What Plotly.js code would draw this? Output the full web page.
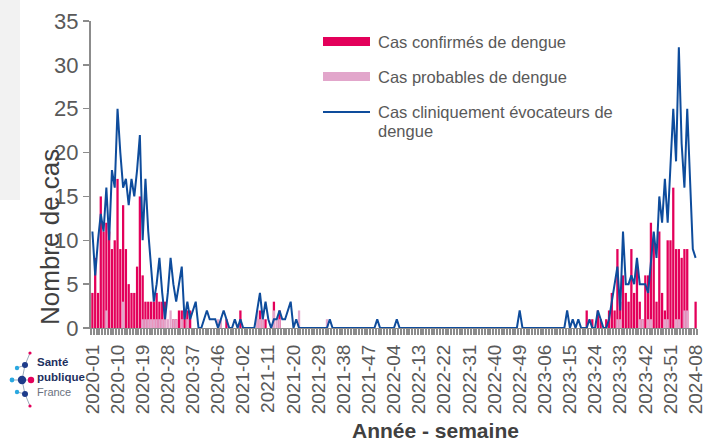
<!DOCTYPE html>
<html><head><meta charset="utf-8">
<script src="https://cdn.plot.ly/plotly-3.0.1.min.js"></script>
<style>html,body{margin:0;padding:0;background:#fff;} #chart{width:705px;height:442px;}</style>
</head><body><div id="chart"></div>
<script>
// ---- Data ----
const years = [2020, 2021, 2022, 2023, 2024];
const weeksPerYear = [53, 52, 52, 52, 8];
const tickLabels = ["2020-01","2020-10","2020-19","2020-28","2020-37","2020-46","2021-02","2021-11","2021-20","2021-29","2021-38","2021-47","2022-04","2022-13","2022-22","2022-31","2022-40","2022-49","2023-06","2023-15","2023-24","2023-33","2023-42","2023-51","2024-08"];

// Cas confirmés de dengue
const confirmes2020 = [4,8,4,15,11,12,11,9,10,17, 9,14,9,5,4,4,7,15,6,3, 3,3,3,4,3,3,3,0,0,1, 1,2,2,2,2,2,0,0,0,0, 0,0,0,0,0,0,0,0,1,0, 0,0,0];
const confirmes2021 = [2,0,0,0,0,0,1,2,1,1, 0,0,3,0,2,0,0,0,0,0, 0,0,0,0,0,0,0,0,0,0, 0,0,0,0,0,0,0,0,0,0, 0,0,0,0,0,0,0,0,0,0, 0,0];
const confirmes2022 = [0,0,0,0,0,0,0,0,0,0, 0,0,0,0,0,0,0,0,0,0, 0,0,0,0,0,0,0,0,0,0, 0,0,0,0,0,0,0,0,0,0, 0,0,0,0,0,0,0,0,0,0, 0,0];
const confirmes2023 = [0,0,0,0,0,0,0,0,0,0, 0,0,0,0,0,0,0,0,0,0, 2,0,1,0,2,1,0,1,2,4, 2,9,3,6,4,3,9,4,7,3, 1,6,6,12,10,3,11,4,2,10, 10,16];
const confirmes2024 = [9,9,8,9,9,0,0,3];

// Cas probables de dengue
const probables2020 = [0,0,0,0,0,2,0,0,0,0, 0,3,0,0,0,0,0,0,1,1, 1,1,1,1,1,1,1,1,2,1, 1,0,1,0,1,0,0,0,0,0, 0,0,0,0,0,1,1,0,0,0, 0,0,0];
const probables2021 = [0,0,0,0,0,0,2,1,2,0, 0,0,2,1,1,0,0,0,0,0, 0,2,0,0,0,0,0,0,0,0, 0,1,0,0,0,0,0,0,0,0, 0,0,0,0,0,0,0,0,0,0, 0,0];
const probables2022 = [0,0,0,0,0,0,0,0,0,0, 0,0,0,0,0,0,0,0,0,0, 0,0,0,0,0,0,0,0,0,0, 0,0,0,0,0,0,0,0,0,0, 0,0,0,0,0,0,0,0,0,0, 0,0];
const probables2023 = [0,0,0,0,0,0,0,0,0,0, 0,0,0,0,0,0,0,0,0,0, 0,0,0,0,0,0,0,0,0,0, 0,1,1,0,0,0,0,0,0,1, 1,0,1,1,0,0,0,0,1,1, 0,0];
const probables2024 = [1,1,0,2,2,0,0,0];

// Cas cliniquement évocateurs de dengue
const cliniques2020 = [11,6,10,13,11,16,10,18,16,25, 20,16,17,14,17,15,18,22,10,17, 11,7,3,5,8,4,1,4,8,5, 3,5,7,1,3,1,2,3,0,0, 1,2,1,1,1,0,1,2,1,0, 0,1,0];
const cliniques2021 = [1,0,0,0,0,0,2,4,1,3, 1,0,1,1,2,1,1,2,3,0, 1,0,0,0,0,0,0,0,0,0, 0,0,1,0,0,0,0,0,0,0, 0,0,0,0,0,0,0,0,0,1, 0,0];
const cliniques2022 = [0,0,0,0,1,0,0,0,0,0, 0,0,0,0,0,0,0,0,0,0, 0,0,0,0,0,0,0,0,0,0, 0,0,0,0,0,0,0,0,0,0, 0,0,0,0,0,0,0,0,2,0, 0,0];
const cliniques2023 = [0,0,0,0,0,0,0,0,0,0, 0,0,0,2,0,1,0,1,0,0, 0,1,0,0,2,1,0,0,1,3, 5,7,2,11,5,5,6,5,8,5, 5,5,4,8,11,8,15,12,17,12, 19,25];
const cliniques2024 = [19,32,21,16,25,16,9,8];

// ---- Build ----
const categories = [];
years.forEach((y, k) => { for (let w = 1; w <= weeksPerYear[k]; w++) categories.push(y + "-" + String(w).padStart(2, "0")); });
const xIdx = categories.map((c, i) => i);
const confirmes = [].concat(confirmes2020, confirmes2021, confirmes2022, confirmes2023, confirmes2024);
const probables = [].concat(probables2020, probables2021, probables2022, probables2023, probables2024);
const cliniques = [].concat(cliniques2020, cliniques2021, cliniques2022, cliniques2023, cliniques2024);
const tickVals = tickLabels.map(l => categories.indexOf(l));

const W = 705, H = 442, L = 91, R = 8, T = 21, B = 114;
const pw = W - L - R, ph = H - T - B;
const px = x => (x - L) / pw;
const py = y => (H - B - y) / ph;
const FONT = 'Arial, "Liberation Sans", sans-serif';
const CRIMSON = '#E3005A', PINK = '#E2A6CB', BLUE = '#0E4C9C', AX = '#8c8c8c', TXT = '#595959';

const traces = [
  {type: 'bar', x: xIdx, y: confirmes, name: 'Cas confirmés de dengue', marker: {color: CRIMSON}, showlegend: false},
  {type: 'bar', x: xIdx, y: probables, name: 'Cas probables de dengue', marker: {color: PINK}, showlegend: false},
  {type: 'scatter', mode: 'lines', x: xIdx, y: cliniques, name: 'Cas cliniquement évocateurs de dengue', line: {color: BLUE, width: 2}, showlegend: false}
];

function circ(cx, cy, r, color) {
  return {type: 'circle', xref: 'paper', yref: 'paper', x0: px(cx - r), x1: px(cx + r), y0: py(cy + r), y1: py(cy - r), fillcolor: color, line: {width: 0}};
}
function seg(xa, ya, xb, yb, color) {
  return {type: 'line', xref: 'paper', yref: 'paper', x0: px(xa), y0: py(ya), x1: px(xb), y1: py(yb), line: {color: color, width: 1}};
}

const shapes = [
  {type: 'rect', xref: 'paper', yref: 'paper', x0: px(0), x1: px(20), y0: py(200), y1: py(0), fillcolor: '#f2f2f2', line: {width: 0}, layer: 'below'},
  {type: 'rect', xref: 'paper', yref: 'paper', x0: px(323), x1: px(370), y0: py(46), y1: py(37), fillcolor: CRIMSON, line: {width: 0}},
  {type: 'rect', xref: 'paper', yref: 'paper', x0: px(323), x1: px(370), y0: py(81), y1: py(72), fillcolor: PINK, line: {width: 0}},
  {type: 'line', xref: 'paper', yref: 'paper', x0: px(323), x1: px(370), y0: py(112), y1: py(112), line: {color: BLUE, width: 2}},
  // logo
  seg(12, 380, 22, 380, '#9ab'), seg(22, 380, 31, 380, '#9ab'), seg(22, 380, 25, 365, '#9ab'), seg(22, 380, 25, 394, '#9ab'),
  seg(25, 365, 30, 353, '#9ab'), seg(25, 394, 30, 406, '#9ab'), seg(17, 368, 25, 365, '#9ab'), seg(17, 392, 25, 394, '#9ab'),
  circ(22, 380, 4.2, '#1d3b8a'), circ(31, 380, 3.2, '#e3005a'), circ(12, 380, 2.4, '#2aa8e0'),
  circ(25, 365, 3, '#1d3b8a'), circ(17, 368, 2.2, '#2aa8e0'), circ(30, 353, 1.6, '#e3005a'),
  circ(25, 394, 3, '#1d3b8a'), circ(17, 392, 2.2, '#2aa8e0'), circ(30, 406, 1.6, '#e3005a')
];

function ann(x, y, text, size, color, extra) {
  return Object.assign({xref: 'paper', yref: 'paper', x: px(x), y: py(y), text: text, showarrow: false,
    xanchor: 'left', yanchor: 'middle', font: {family: FONT, size: size, color: color}}, extra || {});
}

const annotations = [
  ann(376, 42, 'Cas confirmés de dengue', 16.5, TXT),
  ann(376, 77, 'Cas probables de dengue', 16.5, TXT),
  ann(376, 112, 'Cas cliniquement évocateurs de', 16.5, TXT),
  ann(376, 131, 'dengue', 16.5, TXT),
  ann(50, 237, 'Nombre de cas', 26, '#404040', {xanchor: 'center', textangle: -90}),
  ann(436, 430, '<b>Année - semaine</b>', 21, '#404040', {xanchor: 'center'}),
  ann(35, 362, '<b>Santé</b>', 11.5, '#1d2f5e'),
  ann(35, 377, '<b>publique</b>', 11.5, '#1d2f5e'),
  ann(35, 392, 'France', 11, '#6b7280')
];

const layout = {
  width: W, height: H,
  margin: {l: L, r: R, t: T, b: B, pad: 0},
  paper_bgcolor: '#ffffff', plot_bgcolor: '#ffffff',
  barmode: 'overlay', bargap: 0.18,
  showlegend: false,
  font: {family: FONT, color: TXT},
  xaxis: {
    range: [-0.5, categories.length - 0.5], tickmode: 'array', tickvals: tickVals, ticktext: tickLabels,
    tickangle: -90, tickfont: {family: FONT, size: 19, color: TXT},
    ticks: '', showgrid: false, zeroline: false, showline: true, linecolor: AX, linewidth: 1,
    ticklabelstandoff: 8, ticklabeloverflow: 'allow',
    minor: {tickmode: 'linear', tick0: 0.5, dtick: 1, ticks: 'outside', ticklen: 6, tickwidth: 2, tickcolor: AX, showgrid: false}
  },
  yaxis: {
    range: [0, 35], tickmode: 'linear', tick0: 0, dtick: 5,
    tickfont: {family: FONT, size: 22, color: TXT},
    ticks: 'outside', ticklen: 6, tickwidth: 1.5, tickcolor: AX,
    showgrid: false, zeroline: false, showline: true, linecolor: AX, linewidth: 2
  },
  shapes: shapes,
  annotations: annotations
};

Plotly.newPlot('chart', traces, layout, {staticPlot: true, displayModeBar: false});
</script>
</body></html>
